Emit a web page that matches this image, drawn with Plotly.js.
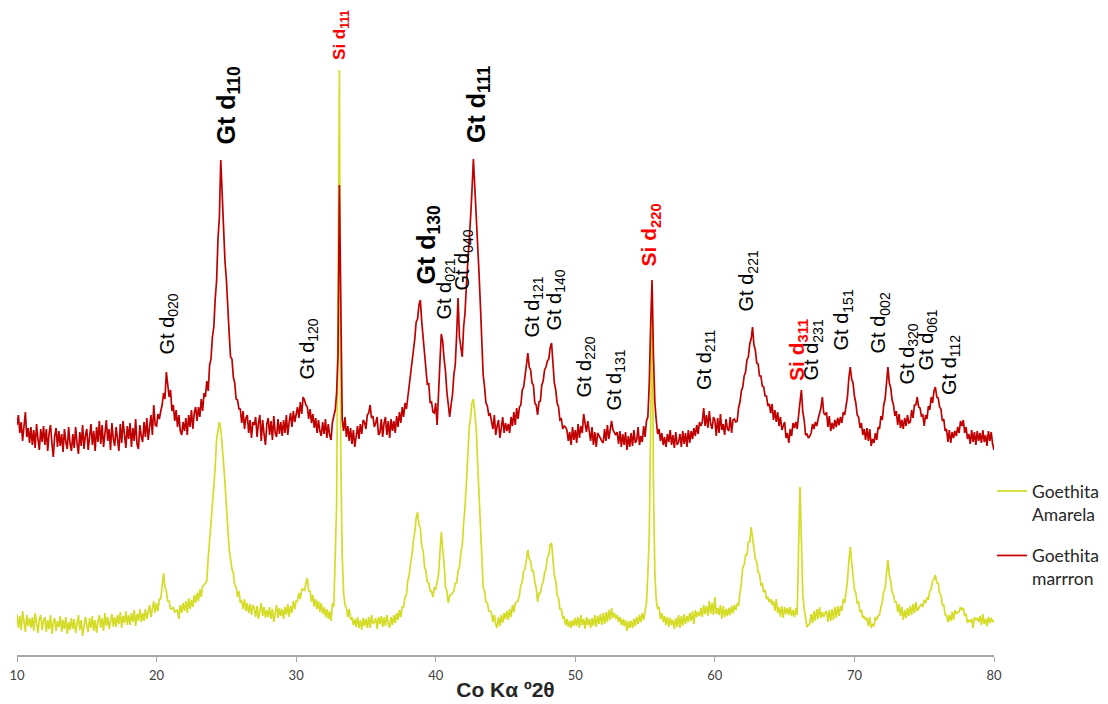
<!DOCTYPE html>
<html>
<head>
<meta charset="utf-8">
<script src="https://cdn.plot.ly/plotly-3.0.1.min.js"></script>
<style>html,body{margin:0;padding:0;background:#fff}#chart{width:1108px;height:704px}</style>
</head>
<body>
<div id="chart"></div>
<script>
// 2θ scan: starts at 10°, one reading every 0.1°
const scanStart = 10;
const scanStep = 0.1;

// Goethita marrron (offset trace), one row per degree
const marrronRows = [
[230,240,222,233,214,228,243,218,227,212],
[228,210,225,207,231,216,205,226,213,229],
[210,226,204,222,230,212,198,219,227,208],
[224,209,221,203,226,213,206,228,211,204],
[221,207,228,212,201,223,209,230,206,219],
[226,205,220,231,210,224,204,228,213,234],
[211,230,208,222,235,214,226,205,232,216],
[209,228,218,204,231,212,234,216,207,229],
[216,232,208,227,214,236,211,206,230,219],
[213,233,218,237,215,228,240,220,250,230],
[229,241,236,244,250,262,256,283,266,258],
[265,244,250,234,245,228,240,224,220,233],
[224,237,220,240,228,245,226,242,248,234],
[248,238,256,244,262,258,274,264,290,296],
[318,328,356,374,416,438,495,458,432,394],
[376,340,322,298,296,278,272,256,255,246],
[246,232,244,226,237,240,222,235,217,233],
[230,238,218,232,240,214,235,221,210,231],
[237,220,234,215,239,222,218,236,221,233],
[219,235,222,240,220,233,242,228,244,233],
[241,248,237,253,241,258,255,250,248,236],
[246,232,241,227,237,222,235,224,219,233],
[221,236,217,231,220,215,233,238,245,262],
[300,470,330,236,224,238,218,229,214,227],
[211,225,208,222,229,216,231,221,235,233],
[226,240,242,250,237,239,228,232,238,220],
[222,236,218,232,238,220,234,217,236,224],
[234,222,239,228,243,232,248,238,252,246],
[258,266,278,288,305,316,333,336,350,355],
[333,318,302,293,270,272,252,253,243,242],
[252,230,268,292,321,314,296,284,263,252],
[238,250,260,280,290,320,357,318,308,298],
[328,342,370,390,420,438,465,496,468,442],
[408,383,350,322,280,268,252,249,240,241],
[234,226,240,220,229,235,217,231,238,222],
[232,224,231,222,238,229,243,230,247,236],
[248,250,265,268,283,290,302,288,285,272],
[270,252,250,240,253,254,270,274,285,288],
[294,296,307,312,292,272,265,252,248,235],
[236,226,229,228,225,214,223,210,228,215],
[225,212,231,217,229,222,241,231,223,234],
[225,214,228,210,223,208,222,219,217,214],
[212,226,214,230,216,227,234,225,223,220],
[223,211,224,208,221,210,223,205,219,208],
[222,209,225,212,215,228,210,219,213,229],
[218,234,238,272,330,375,300,253,235,221],
[226,214,222,210,218,208,221,213,225,210],
[220,207,223,210,213,221,208,224,211,222],
[208,225,212,224,216,227,219,230,221,233],
[229,233,247,229,240,227,244,231,226,238],
[235,219,237,222,241,225,231,220,236,226],
[224,238,222,235,236,233,234,247,253,264],
[268,279,283,295,298,311,316,328,310,305],
[292,291,279,279,269,268,259,259,249,251],
[242,251,235,245,233,243,229,238,225,229],
[233,217,222,212,226,219,232,227,233,226],
[242,253,265,243,235,220,221,217,219,222],
[231,226,233,229,236,242,247,258,242,240],
[243,228,239,224,232,226,235,228,237,230],
[238,232,243,240,250,258,277,288,276,272],
[259,252,240,238,227,232,220,226,215,227],
[214,226,209,216,212,222,215,228,226,239],
[235,250,256,272,288,272,267,255,250,239],
[244,230,241,227,235,226,237,229,240,232],
[233,245,237,250,250,258,248,247,239,240],
[229,240,236,249,245,258,252,264,268,258],
[257,248,246,234,236,224,226,213,225,212],
[223,217,224,219,228,222,234,229,235,222],
[228,216,221,211,225,213,223,210,224,214],
[222,212,225,213,220,209,224,214,223,211],
[205]
];

// Goethita Amarela, one row per degree
const amarelaRows = [
[41,27,39,25,44,31,23,40,29,37],
[27,38,24,42,30,22,36,40,25,34],
[38,23,35,26,40,21,32,37,24,34],
[28,39,23,35,26,38,21,33,25,37],
[26,36,22,34,40,25,35,19,31,38],
[30,23,37,27,39,24,35,22,33,40],
[27,37,24,42,29,38,26,36,41,28],
[38,28,40,31,43,27,39,32,44,30],
[40,30,42,33,45,29,41,34,46,33],
[42,34,46,36,44,50,38,48,54,42],
[52,44,56,56,67,82,68,64,54,54],
[46,46,48,43,44,45,36,50,42,52],
[44,54,42,57,46,55,48,60,52,62],
[54,66,58,69,70,72,74,97,113,134],
[148,168,188,216,224,233,226,212,192,172],
[146,128,106,96,86,82,70,68,58,64],
[53,54,46,56,44,52,42,51,40,50],
[47,38,49,36,46,52,39,48,37,45],
[38,48,36,46,33,44,50,37,47,39],
[46,36,48,40,51,38,49,42,54,46],
[54,54,62,56,66,66,64,72,77,64],
[64,53,60,48,56,46,54,43,52,41],
[48,38,46,36,44,34,52,48,90,150],
[350,585,200,100,62,50,47,38,46,36],
[37,30,36,28,38,27,35,25,37,29],
[36,27,38,27,40,31,33,37,26,38],
[31,39,28,38,29,40,32,27,38,30],
[40,32,42,35,45,38,48,48,58,60],
[74,80,92,100,114,123,137,143,130,127],
[109,104,88,84,73,72,64,64,58,67],
[66,72,80,102,123,106,92,68,64,52],
[60,60,62,64,72,72,84,88,102,109],
[132,148,173,198,227,238,252,256,238,227],
[193,162,129,102,68,64,53,52,44,44],
[42,33,40,31,27,38,29,40,32,42],
[36,44,35,46,38,50,43,52,53,54],
[60,70,73,84,86,97,105,96,94,84],
[84,73,67,53,62,62,70,73,82,86],
[97,100,110,112,97,80,74,60,57,46],
[46,37,38,30,36,28,34,27,35,29],
[37,29,38,27,40,30,36,26,38,30],
[36,27,37,29,40,28,39,31,41,30],
[42,31,43,33,45,35,47,37,42,36],
[40,33,38,30,36,29,35,24,34,27],
[34,27,36,29,38,31,40,33,42,35],
[44,52,82,120,230,373,170,82,55,46],
[48,36,42,33,39,30,38,28,37,30],
[35,26,37,28,40,27,39,29,41,31],
[39,33,42,34,44,31,45,38,43,39],
[47,38,50,41,49,39,54,41,52,40],
[58,41,47,40,50,36,49,38,46,39],
[47,40,49,42,50,45,51,50,62,72],
[88,90,100,100,113,113,128,116,108,96],
[93,83,81,70,71,63,65,56,58,53],
[56,50,54,44,56,42,48,38,49,37],
[48,41,47,40,48,39,45,38,47,40],
[108,168,115,60,46,38,28,30,31,41],
[32,44,34,46,36,48,37,43,38,42],
[44,33,45,34,46,35,48,37,49,39],
[49,44,56,52,64,74,94,108,93,82],
[66,62,52,53,43,45,37,39,35,37],
[29,38,27,31,29,38,35,39,40,48],
[53,64,66,82,95,80,74,63,60,53],
[53,43,51,39,48,35,45,37,47,39],
[49,40,51,42,53,44,47,49,51,48],
[55,52,57,56,64,66,74,76,80,72],
[72,62,60,50,50,40,40,33,40,34],
[43,35,45,41,43,43,48,45,47,39],
[41,32,35,33,36,27,38,35,37,33],
[39,30,41,31,36,29,38,32,37,33],
[35]
];

const seriesNames = ['Goethita<br>Amarela', 'Goethita<br>marrron'];
const xTickValues = [10, 20, 30, 40, 50, 60, 70, 80];
const xTitle = 'Co Kα º2θ';

// Peak labels (text, kind)
const peakLabels = [
  ['Gt d<sub>020</sub>', 'gt'],
  ['Gt d<sub>110</sub>', 'gtBold'],
  ['Si d<sub>111</sub>', 'siSmall'],
  ['Gt d<sub>120</sub>', 'gt'],
  ['Gt d<sub>130</sub>', 'gtBold'],
  ['Gt d<sub>021</sub>', 'gt'],
  ['Gt d<sub>040</sub>', 'gt'],
  ['Gt d<sub>111</sub>', 'gtBold'],
  ['Gt d<sub>121</sub>', 'gt'],
  ['Gt d<sub>140</sub>', 'gt'],
  ['Gt d<sub>220</sub>', 'gt'],
  ['Gt d<sub>131</sub>', 'gt'],
  ['Si d<sub>220</sub>', 'si'],
  ['Gt d<sub>211</sub>', 'gt'],
  ['Gt d<sub>221</sub>', 'gt'],
  ['Si d<sub>311</sub>', 'si'],
  ['Gt d<sub>231</sub>', 'gt'],
  ['Gt d<sub>151</sub>', 'gt'],
  ['Gt d<sub>002</sub>', 'gt'],
  ['Gt d<sub>320</sub>', 'gt'],
  ['Gt d<sub>061</sub>', 'gt'],
  ['Gt d<sub>112</sub>', 'gt']
];
// where each label sits (2θ, intensity at the label's lower end)
const labelAt = [
  [20.82, 298], [25.05, 508], [33.21, 593], [30.85, 273], [39.38, 368],
  [40.67, 333], [41.96, 362], [43.03, 510], [46.97, 315], [48.55, 322],
  [50.70, 255], [52.85, 242], [55.35, 387], [59.29, 263], [62.37, 342],
  [65.96, 272], [67.03, 273], [69.18, 303], [71.83, 300], [73.84, 268],
  [75.20, 282], [76.85, 258]
];

const styles = {
  gt:      {size: 20, color: '#000000', bold: false},
  gtBold:  {size: 25, color: '#000000', bold: true},
  si:      {size: 21, color: '#FF0000', bold: true},
  siSmall: {size: 17, color: '#FF0000', bold: true}
};

const amarela = amarelaRows.flat();
const marrron = marrronRows.flat();

const traces = [
  {type: 'scatter', mode: 'lines', name: seriesNames[0], legendgroup: 'a', y: amarela, x0: scanStart, dx: scanStep,
   line: {color: '#D4DC28', width: 1.7}},
  {type: 'scatter', mode: 'lines', name: seriesNames[1], legendgroup: 'b', y: marrron, x0: scanStart, dx: scanStep,
   line: {color: '#C00000', width: 1.7}}
];

const annotations = peakLabels.map((p, i) => {
  const s = styles[p[1]];
  return {
    x: labelAt[i][0], y: labelAt[i][1], xref: 'x', yref: 'y',
    text: s.bold ? '<b>' + p[0] + '</b>' : p[0],
    textangle: -90, showarrow: false, xanchor: 'center', yanchor: 'bottom',
    font: {family: 'Liberation Sans, Arial, sans-serif', size: s.size, color: s.color}
  };
});

const layout = {
  width: 1108, height: 704,
  margin: {l: 17, r: 114, t: 10, b: 49, autoexpand: false},
  paper_bgcolor: '#ffffff', plot_bgcolor: '#ffffff',
  showlegend: true,
  legend: {xref: 'container', yref: 'container', x: 0.8953, xanchor: 'left', y: 0.328, yanchor: 'top', valign: 'top',
           traceorder: 'grouped', tracegroupgap: 16,
           font: {family: 'Lato, Carlito, sans-serif', size: 17.5, color: '#262626'},
           bgcolor: 'rgba(0,0,0,0)'},
  xaxis: {range: [10, 80], tickvals: xTickValues, ticktext: xTickValues.map(String),
          showline: true, linecolor: '#A6A6A6', linewidth: 1.5, ticks: 'outside', ticklen: 5,
          tickcolor: '#A6A6A6', showgrid: false, zeroline: false, ticklabelstandoff: 3,
          tickfont: {family: 'Lato, Carlito, sans-serif', size: 13, color: '#404040'},
          title: {text: '<b>' + xTitle + '</b>', standoff: 0,
                  font: {family: 'Liberation Sans, Arial, sans-serif', size: 21, color: '#262626'}}},
  yaxis: {range: [0, 645], visible: false, showgrid: false, zeroline: false, fixedrange: true},
  annotations: annotations,
  hovermode: false
};

Plotly.newPlot('chart', traces, layout, {displayModeBar: false, staticPlot: true});
</script>
</body>
</html>
